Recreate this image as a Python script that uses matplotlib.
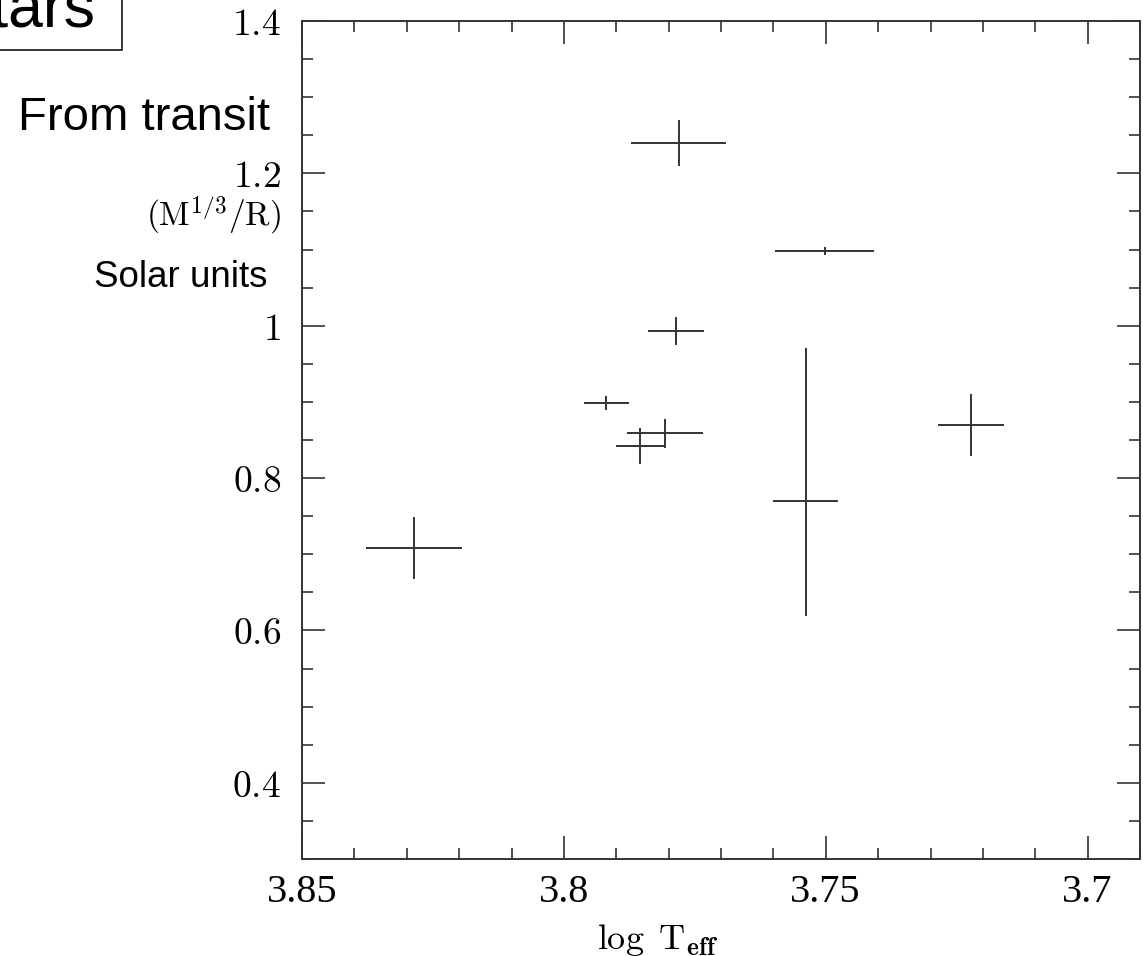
import matplotlib
matplotlib.use("Agg")
import matplotlib.pyplot as plt
from matplotlib.patches import Rectangle
from matplotlib.ticker import FixedLocator, FixedFormatter, MultipleLocator
import numpy as np

plt.rcParams['mathtext.fontset'] = 'cm'

# ---- data ----
log_teff = [3.8286, 3.7919, 3.7854, 3.7807, 3.7538, 3.7223, 3.7781, 3.7502, 3.7786]
log_teff_err = [0.0092, 0.0043, 0.0047, 0.0073, 0.0062, 0.0063, 0.0091, 0.0094, 0.0053]
density = [0.708, 0.899, 0.842, 0.859, 0.770, 0.870, 1.240, 1.098, 0.993]
density_err_lo = [0.041, 0.009, 0.024, 0.019, 0.151, 0.041, 0.030, 0.005, 0.018]
density_err_hi = [0.041, 0.009, 0.024, 0.019, 0.201, 0.041, 0.030, 0.005, 0.018]

xtick_vals = [3.85, 3.8, 3.75, 3.7]
xtick_labels = ['3.85', '3.8', '3.75', '3.7']
ytick_vals = [0.4, 0.6, 0.8, 1.0, 1.2, 1.4]
ytick_labels = ['$0.4$', '$0.6$', '$0.8$', '$1$', '$1.2$', '$1.4$']

W, H = 1143, 956
fig = plt.figure(figsize=(W / 100, H / 100), dpi=100)
ax = fig.add_axes([302 / W, 1 - 859 / H, 838 / W, 838 / H])

line_col = '#333333'
ax.errorbar(log_teff, density, xerr=log_teff_err,
            yerr=[density_err_lo, density_err_hi],
            fmt='none', ecolor=line_col, elinewidth=1.4, capsize=0)

ax.set_xlim(3.85, 3.69)
ax.set_ylim(0.3, 1.4)

ax.xaxis.set_major_locator(FixedLocator(xtick_vals))
ax.xaxis.set_major_formatter(FixedFormatter(xtick_labels))
ax.xaxis.set_minor_locator(MultipleLocator(0.01))
ax.yaxis.set_major_locator(FixedLocator(ytick_vals))
ax.yaxis.set_major_formatter(FixedFormatter(ytick_labels))
ax.yaxis.set_minor_locator(MultipleLocator(0.05))

ax.tick_params(which='both', direction='in', top=True, right=True,
               color=line_col, width=1.2)
ax.tick_params(which='major', length=16.5)
ax.tick_params(which='minor', length=8.2)
ax.tick_params(axis='y', which='major', labelsize=27, pad=15)
ax.tick_params(axis='x', which='major', labelsize=29, pad=11)
for lab in ax.get_xticklabels():
    lab.set_family('Liberation Serif')
for s in ax.spines.values():
    s.set_color(line_col)
    s.set_linewidth(1.4)

fig.text(658 / W, 1 - 940 / H, r'$\log\ \mathrm{T}_{\mathbf{eff}}$',
         fontsize=26, ha='center', va='center')

fig.text(281 / W, 1 - 215 / H, r'$(\mathrm{M}^{1/3}/\mathrm{R})$',
         fontsize=24, ha='right', va='center')
fig.text(270 / W, 1 - 130 / H, 'From transit', family='Liberation Sans',
         fontsize=34, ha='right', va='baseline')
fig.text(267 / W, 1 - 287 / H, 'Solar units', family='Liberation Sans',
         fontsize=26.5, ha='right', va='baseline')

fig.text(95 / W, 1 - 27 / H, 'Stars', family='Liberation Sans',
         fontsize=45, ha='right', va='baseline')
fig.add_artist(Rectangle((-0.05, 1 - 50 / H), (122 / W) + 0.05, 60 / H,
                         transform=fig.transFigure, fill=False,
                         edgecolor='black', linewidth=1.1))

fig.savefig('out.png', dpi=100)
